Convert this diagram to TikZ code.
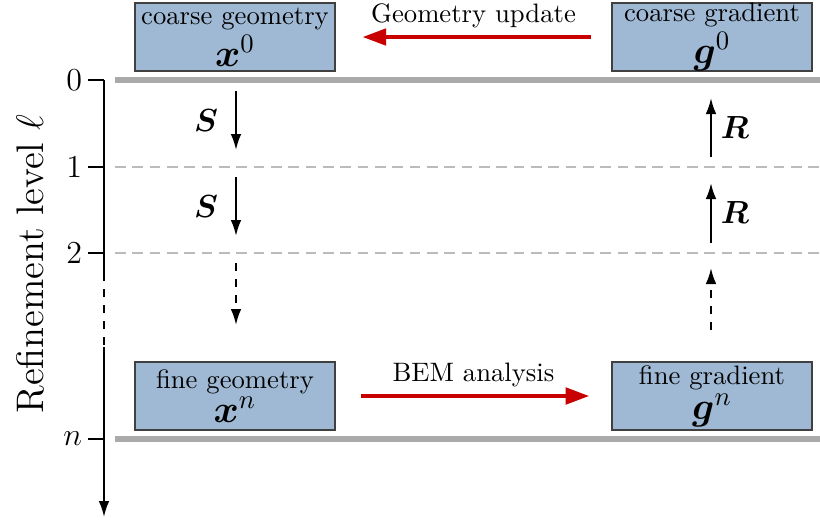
\documentclass[tikz,border=0pt]{standalone}
\usepackage{amsmath}
\usepackage{bm}
\usetikzlibrary{arrows.meta}
\definecolor{boxblue}{RGB}{159, 185, 212}
\definecolor{red}{RGB}{200, 0, 0}
\definecolor{gray}{RGB}{170, 170, 170}

\begin{document}
\begin{tikzpicture}[x=0.375pt, y=-0.375pt,
    stage/.style={draw=black!75, fill=boxblue, align=center, inner sep=0pt,
        minimum width=75pt, minimum height=25.5pt, font=\normalsize},
    flow/.style={red, line width=1.8pt, -{Triangle[length=9pt, width=6pt]}},
    flowlabel/.style={text=black, font=\normalsize},
    oper/.style={thick, -{Latex[length=6pt, width=4pt]}},
    oplabel/.style={font=\large},
    coarseline/.style={gray, line width=2pt},
    subline/.style={gray!80, thin, dashed, dash pattern=on 4pt off 2.5pt}]
        \useasboundingbox (0,0) rectangle (820,521);

        % Refinement axis
        \coordinate (axtop) at (104,80);
        \coordinate (axgap) at (104,273);
        \coordinate (axgapend) at (104,347);
        \coordinate (axend) at (104,517);
        \draw[thick] (axtop) -- (axgap);
        \draw[thick, dashed] (axgap) -- (axgapend);
        \draw[thick, -{Latex[length=6pt, width=4pt]}] (axgapend) -- (axend);
        \node[rotate=90, font=\Large] (axlabel) at (30,264) {Refinement level $\ell$};

        % Ticks and level labels
        \foreach \lvl/\y in {0/80, 1/167, 2/253, n/439} {
            \coordinate (tick-\lvl) at (88,\y);
            \draw[thick] (tick-\lvl) -- (104,\y);
            \node[anchor=east, font=\large, inner sep=2pt] (lbl-\lvl) at (tick-\lvl) {$\lvl$};
        }

        % Level lines
        \draw[coarseline] (115,80) -- (820,80);
        \draw[coarseline] (115,439) -- (820,439);
        \draw[subline] (115,167) -- (820,167);
        \draw[subline] (115,253) -- (820,253);

        % Geometry and gradient boxes
        \node[stage] (cgeom) at (235,37) {coarse geometry\\[1pt] {\Large$\bm{x}^0$}};
        \node[stage] (cgrad) at (712,37) {coarse gradient\\[1pt] {\Large$\bm{g}^0$}};
        \node[stage] (fgeom) at (235,396) {fine geometry\\[1pt] {\Large$\bm{x}^n$}};
        \node[stage] (fgrad) at (712,396) {fine gradient\\[1pt] {\Large$\bm{g}^n$}};

        % Optimisation loop
        \draw[flow, shorten <=7.5pt, shorten >=10pt] (cgrad) -- (cgeom)
            node[midway, above=-1pt, flowlabel] (update) {Geometry update};
        \draw[flow, shorten <=9.4pt, shorten >=8.2pt] (fgeom) -- (fgrad)
            node[midway, above=-1pt, flowlabel] (bem) {BEM analysis};

        % Subdivision S (down) and restriction R (up)
        \foreach \i/\ya/\yb in {1/91/150, 2/177/236, 3/263/325} {
            \coordinate (s\i-top) at (236,\ya);
            \coordinate (s\i-bot) at (236,\yb);
        }
        \foreach \i/\ya/\yb in {1/157/98, 2/243/183, 3/330/268} {
            \coordinate (r\i-bot) at (711,\ya);
            \coordinate (r\i-top) at (711,\yb);
        }
        \draw[oper] (s1-top) -- (s1-bot) node[midway, left=3pt, oplabel] (s1) {$\bm{S}$};
        \draw[oper] (s2-top) -- (s2-bot) node[midway, left=3pt, oplabel] (s2) {$\bm{S}$};
        \draw[oper, dashed] (s3-top) -- (s3-bot);
        \draw[oper] (r1-bot) -- (r1-top) node[midway, right=0pt, oplabel] (r1) {$\bm{R}$};
        \draw[oper] (r2-bot) -- (r2-top) node[midway, right=0pt, oplabel] (r2) {$\bm{R}$};
        \draw[oper, dashed] (r3-bot) -- (r3-top);
\end{tikzpicture}
\end{document}
